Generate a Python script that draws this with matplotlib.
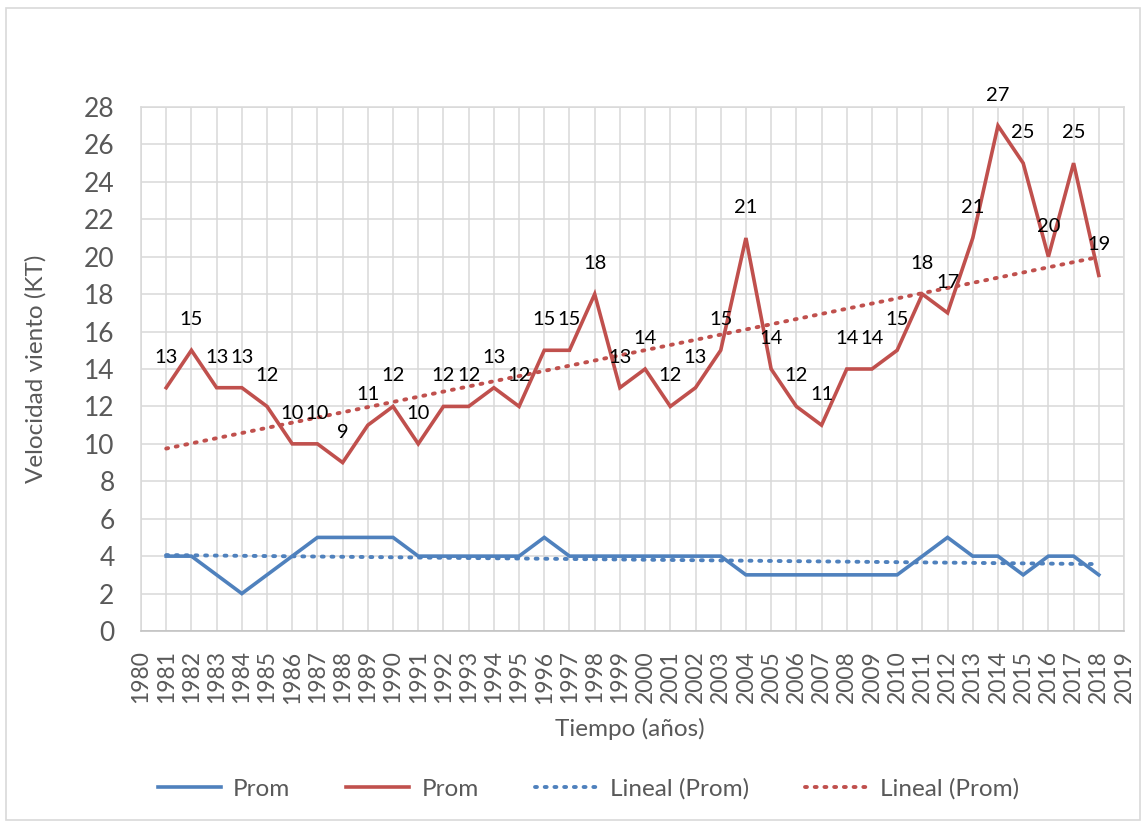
import numpy as np
import matplotlib.pyplot as plt
from matplotlib.patches import Rectangle

years = list(range(1981, 2019))
prom_rojo = [13, 15, 13, 13, 12, 10, 10, 9, 11, 12, 10, 12, 12, 13, 12, 15, 15, 18, 13, 14,
             12, 13, 15, 21, 14, 12, 11, 14, 14, 15, 18, 17, 21, 27, 25, 20, 25, 19]
prom_azul = [4, 4, 3, 2, 3, 4, 5, 5, 5, 5, 4, 4, 4, 4, 4, 5, 4, 4, 4, 4,
             4, 4, 4, 3, 3, 3, 3, 3, 3, 3, 4, 5, 4, 4, 3, 4, 4, 3]
x_ticks = list(range(1980, 2020))
y_ticks = list(range(0, 29, 2))

azul = "#4f81bd"
rojo = "#c0504d"
gris = "#595959"
fuente = ["Lato", "DejaVu Sans"]
plt.rcParams["font.family"] = fuente

fig = plt.figure(figsize=(11.43, 8.23), dpi=100)
ax = fig.add_axes([141 / 1143, 1 - 631 / 823, (1124 - 141) / 1143, (631 - 107) / 823])

# marco exterior del grafico
fig.patches.append(Rectangle((6 / 1143, 3 / 823), 1134 / 1143, 812 / 823, transform=fig.transFigure,
                             fill=False, edgecolor="#d9d9d9", linewidth=1.2))

x = np.array(years)
ax.plot(x, prom_azul, color=azul, lw=2.6, label="Prom", solid_joinstyle="miter")
ax.plot(x, prom_rojo, color=rojo, lw=2.6, label="Prom", solid_joinstyle="miter")

# lineas de tendencia lineal
for serie, color in ((prom_azul, azul), (prom_rojo, rojo)):
    m, b = np.polyfit(x, serie, 1)
    ax.plot(x, m * x + b, color=color, lw=2.8, linestyle=(0, (0.5, 2.0)),
            dash_capstyle="round", label="Lineal (Prom)")

for xi, yi in zip(years, prom_rojo):
    ax.annotate(str(yi), (xi, yi), xytext=(0, 22), textcoords="offset points",
                ha="center", va="center", fontsize=14.5, color="black")

ax.set_xlim(1980, 2019)
ax.set_ylim(0, 28)
ax.set_xticks(x_ticks)
ax.set_xticklabels([str(v) for v in x_ticks], rotation=90)
ax.set_yticks(y_ticks)
ax.grid(True, color="#d9d9d9", lw=1.1)
ax.set_axisbelow(True)
ax.tick_params(length=0, colors=gris)
ax.tick_params(axis="x", labelsize=16.5, pad=14)
ax.tick_params(axis="y", labelsize=19, pad=19)
for lado in ("top", "right", "left", "bottom"):
    ax.spines[lado].set_color("#d9d9d9")
    ax.spines[lado].set_linewidth(1.1)
ax.spines["bottom"].set_color("#bfbfbf")

ax.set_xlabel("Tiempo (años)", fontsize=17.5, color=gris)
ax.set_ylabel("Velocidad viento (KT)", fontsize=17.5, color=gris)
ax.xaxis.set_label_coords(0.497, -0.165)
ax.yaxis.set_label_coords(-0.096, 0.5)

fig.legend(loc="center", bbox_to_anchor=(0.515, 1 - 789 / 823), ncol=4, frameon=False,
           fontsize=17.5, handlelength=2.6, handletextpad=0.5, columnspacing=2.3,
           labelcolor=gris)

fig.savefig("out.png", dpi=100)
